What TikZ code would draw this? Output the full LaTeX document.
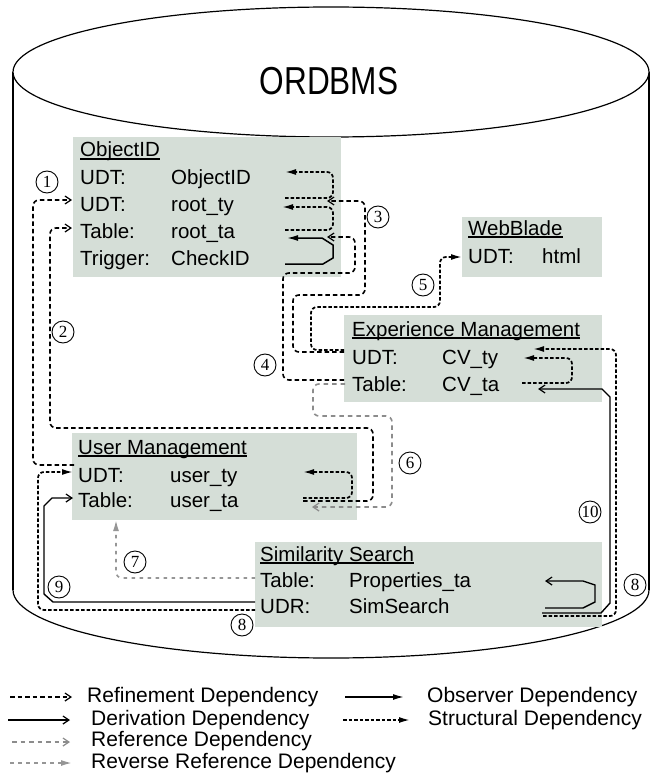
\documentclass[tikz,border=0pt]{standalone}
\usepackage{fontspec}
\setmainfont{Liberation Sans}
\newfontfamily\numfont{Liberation Serif}
\usepackage{graphicx}
\usetikzlibrary{arrows.meta}
\definecolor{boxfill}{RGB}{213,222,215}
\definecolor{refgray}{RGB}{140,140,140}
\definecolor{revgray}{RGB}{150,150,150}
\begin{document}
\begin{tikzpicture}[x=1pt,y=-1pt,
 box/.style={fill=boxfill, draw=none, anchor=north west, inner sep=0pt},
 txt/.style={anchor=base west, inner sep=0pt, font=\fontsize{20.5}{25}\selectfont},
 lgd/.style={anchor=base west, inner sep=0pt, font=\fontsize{21}{25}\selectfont},
 num/.style={draw, circle, line width=0.9pt, inner sep=0pt, minimum size=22pt, font=\numfont\fontsize{17}{17}\selectfont},
 uline/.style={line width=1.2pt},
 refine/.style={line width=1.6pt, dash pattern=on 4.5pt off 3pt, -{Straight Barb[length=6pt,width=8pt,line width=1.2pt]}, rounded corners=6pt},
 struct/.style={line width=1.7pt, dash pattern=on 3.5pt off 2pt, -{Latex[length=11pt,width=6pt]}, rounded corners=6pt},
 observ/.style={line width=1.5pt, -{Latex[length=11pt,width=6pt]}},
 deriv/.style={line width=1.4pt, -{Straight Barb[length=6pt,width=8pt,line width=1.2pt]}},
 refer/.style={line width=1.6pt, draw=refgray, dash pattern=on 4.5pt off 4pt, -{Straight Barb[length=6pt,width=8pt,line width=1.2pt]}, rounded corners=6pt},
 revref/.style={line width=1.6pt, draw=revgray, dash pattern=on 3.5pt off 4.5pt, -{Latex[length=11pt,width=6pt]}, rounded corners=6pt},
]
\fill[white] (0,0) rectangle (661,778);
\useasboundingbox (0,0) rectangle (661,778);

% cylinder
\draw[line width=1.8pt] (13,72) -- (13,590);
\draw[line width=1.8pt] (649,72) -- (649,590);
\draw[line width=1.2pt] (13,590) arc[start angle=180, end angle=0, x radius=318, y radius=68];
\draw[line width=1.2pt, fill=white] (331,72) ellipse [x radius=318, y radius=65];
\node[inner sep=0pt] (db) at (329,81) {\scalebox{0.81}[1]{\fontsize{39}{39}\selectfont ORDBMS}};

% boxes
\node[box, minimum width=268pt, minimum height=140pt] (oidbox) at (73,137) {};
\node[box, minimum width=140pt, minimum height=60pt] (webbox) at (462,217) {};
\node[box, minimum width=258pt, minimum height=87pt] (expbox) at (344,315) {};
\node[box, minimum width=285pt, minimum height=87pt] (usrbox) at (72,433) {};
\node[box, minimum width=347pt, minimum height=85pt] (simbox) at (255,542) {};

% ObjectID
\node[txt] (oidT) at (80,157) {ObjectID};
\draw[uline] ([yshift=-2pt]oidT.base west) -- ([yshift=-2pt]oidT.base east);
\node[txt] (o1a) at (80,185) {UDT:};    \node[txt] (o1b) at (171,185) {ObjectID};
\node[txt] (o2a) at (80,211) {UDT:};    \node[txt] (o2b) at (171,211) {root\_ty};
\node[txt] (o3a) at (80,238) {Table:};  \node[txt] (o3b) at (171,238) {root\_ta};
\node[txt] (o4a) at (80,265) {Trigger:};\node[txt] (o4b) at (171,265) {CheckID};

% WebBlade
\node[txt] (webT) at (468,235) {WebBlade};
\draw[uline] ([yshift=-2pt]webT.base west) -- ([yshift=-2pt]webT.base east);
\node[txt] (w1a) at (468,263) {UDT:}; \node[txt] (w1b) at (542,263) {html};

% Experience Management
\node[txt] (expT) at (352,336) {Experience Management};
\draw[uline] ([yshift=-2pt]expT.base west) -- ([yshift=-2pt]expT.base east);
\node[txt] (e1a) at (352,364) {UDT:};   \node[txt] (e1b) at (442,364) {CV\_ty};
\node[txt] (e2a) at (352,391) {Table:}; \node[txt] (e2b) at (442,391) {CV\_ta};

% User Management
\node[txt] (usrT) at (78,454) {User Management};
\draw[uline] ([yshift=-2pt]usrT.base west) -- ([yshift=-2pt]usrT.base east);
\node[txt] (u1a) at (78,482) {UDT:};   \node[txt] (u1b) at (170,482) {user\_ty};
\node[txt] (u2a) at (78,507) {Table:}; \node[txt] (u2b) at (170,507) {user\_ta};

% Similarity Search
\node[txt] (simT) at (260,561) {Similarity Search};
\draw[uline] ([yshift=-2pt]simT.base west) -- ([yshift=-2pt]simT.base east);
\node[txt] (s1a) at (260,587) {Table:}; \node[txt] (s1b) at (349,587) {Properties\_ta};
\node[txt] (s2a) at (260,613) {UDR:};   \node[txt] (s2b) at (349,613) {SimSearch};

% connector end points
\coordinate (usrtyL) at (74,465);
\coordinate (roottyL) at (72,200);
\coordinate (usrtaR) at (303,501);
\coordinate (roottaL) at (72,228);
\coordinate (usrtaR2) at (303,498);
\coordinate (usrtyR) at (303,472);
\coordinate (oidty2R) at (285,198);
\coordinate (oidR1) at (285,172);
\coordinate (oidta2R) at (285,230);
\coordinate (oidR2) at (282,207);
\coordinate (trigR) at (285,264);
\coordinate (roottaR) at (287,238);
\coordinate (cvtyL) at (344,352);
\coordinate (cvtyL2) at (344,350);
\coordinate (roottyR) at (327,201);
\coordinate (cvtaL) at (344,380);
\coordinate (roottaR2) at (327,237);
\coordinate (htmlL) at (462,257);
\coordinate (cvtaR) at (522,383);
\coordinate (cvtyR) at (523,358);
\coordinate (simR) at (543,616);
\coordinate (cvtyR2) at (533,349);
\coordinate (simL) at (255,610);
\coordinate (usrtyL2) at (73,472);
\coordinate (simL2) at (255,602);
\coordinate (usrtaL) at (73,498);
\coordinate (simR2) at (542,613);
\coordinate (cvtaR2) at (538,389);
\coordinate (udrR) at (545,608);
\coordinate (propR) at (545,581);
\coordinate (cvtaL2) at (345,384);
\coordinate (usrtaR3) at (312,507);
\coordinate (propL) at (255,578);
\coordinate (usrbot) at (116,520);

% connectors
\draw[refine] (usrtyL) -- (33,465) -- (33,200) -- (roottyL);
\draw[refine] (usrtaR) -- (373,501) -- (373,428) -- (50,428) -- (50,228) -- (roottaL);
\draw[struct] (usrtaR2) -- (352,498) -- (352,472) -- (usrtyR);
\draw[struct] (oidty2R) -- (333,198) -- (333,172) -- (oidR1);
\draw[struct] (oidta2R) -- (333,230) -- (333,207) -- (oidR2);
\draw[observ] (trigR) -- (323,264) -- (333,258) -- (333,245) -- (322,238) -- (roottaR);
\draw[refine] (cvtyL) -- (293,352) -- (293,295) -- (365,295) -- (365,201) -- (roottyR);
\draw[refine] (cvtaL) -- (283,380) -- (283,273) -- (355,273) -- (355,237) -- (roottaR2);
\draw[struct] (cvtyL2) -- (311,350) -- (311,307) -- (440,307) -- (440,257) -- (htmlL);
\draw[struct] (cvtaR) -- (572,383) -- (572,358) -- (cvtyR);
\draw[struct] (simR) -- (616,616) -- (616,349) -- (cvtyR2);
\draw[struct] (simL) -- (38,610) -- (38,472) -- (usrtyL2);
\draw[deriv] (simL2) -- (53,602) -- (44,594) -- (44,506) -- (52,498) -- (usrtaL);
\draw[deriv] (simR2) -- (601,613) -- (610,603) -- (610,397) -- (602,389) -- (cvtaR2);
\draw[deriv] (udrR) -- (583,608) -- (595,602) -- (595,585) -- (583,581) -- (propR);
\draw[refer] (cvtaL2) -- (313,384) -- (313,416) -- (392,416) -- (392,507) -- (usrtaR3);
\draw[revref] (propL) -- (116,578) -- (usrbot);

% numbers
\node[num] (n1) at (47,182) {1};
\node[num] (n2) at (63,332) {2};
\node[num] (n3) at (378,217) {3};
\node[num] (n4) at (265,365) {4};
\node[num] (n5) at (423,285) {5};
\node[num] (n6) at (410,463) {6};
\node[num] (n7) at (135,562) {7};
\node[num] (n8a) at (242,625) {8};
\node[num] (n8b) at (635,585) {8};
\node[num] (n9) at (59,587) {9};
\node[num] (n10) at (590,512) {10};

% legend
\coordinate (l1a) at (10,697);  \coordinate (l1b) at (72,697);
\coordinate (l2a) at (345,697); \coordinate (l2b) at (404,697);
\coordinate (l3a) at (8,720);   \coordinate (l3b) at (70,720);
\coordinate (l4a) at (343,720); \coordinate (l4b) at (410,720);
\coordinate (l5a) at (12,742);  \coordinate (l5b) at (70,742);
\coordinate (l6a) at (10,763);  \coordinate (l6b) at (72,763);
\draw[refine] (l1a) -- (l1b);
\draw[observ] (l2a) -- (l2b);
\draw[deriv] (l3a) -- (l3b);
\draw[struct] (l4a) -- (l4b);
\draw[refer] (l5a) -- (l5b);
\draw[revref] (l6a) -- (l6b);
\node[lgd] (t1) at (87,702) {Refinement Dependency};
\node[lgd] (t2) at (427,702) {Observer Dependency};
\node[lgd] (t3) at (91,725) {Derivation Dependency};
\node[lgd] (t4) at (428,725) {Structural Dependency};
\node[lgd] (t5) at (91,746) {Reference Dependency};
\node[lgd] (t6) at (91,768) {Reverse Reference Dependency};
\end{tikzpicture}
\end{document}
